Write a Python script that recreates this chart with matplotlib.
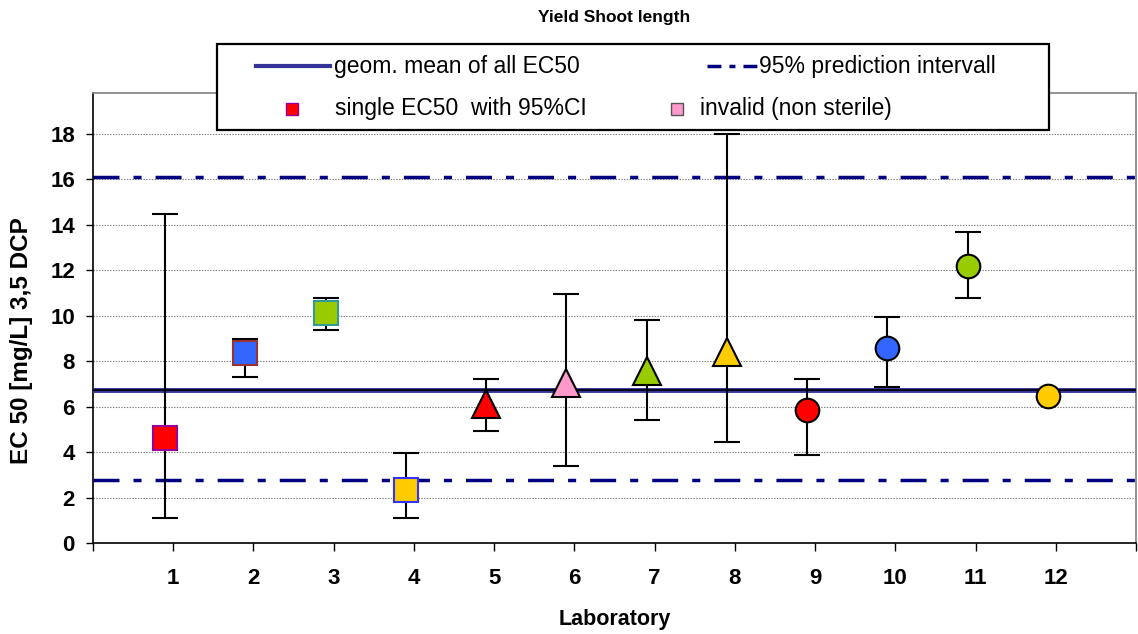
import matplotlib
matplotlib.use("Agg")
import matplotlib.pyplot as plt
from matplotlib.lines import Line2D
from matplotlib.patches import Rectangle

plt.rcParams["font.family"] = ["Liberation Sans", "DejaVu Sans"]
plt.rcParams["lines.scale_dashes"] = False

LABS = [1, 2, 3, 4, 5, 6, 7, 8, 9, 10, 11, 12]
EC50 = [4.60, 8.36, 10.12, 2.33, 6.12, 7.03, 7.59, 8.42, 5.84, 8.59, 12.18, 6.46]
CI_LOW = [1.11, 7.32, 9.37, 1.11, 4.93, 3.39, 5.41, 4.45, 3.87, 6.88, 10.78, None]
CI_HIGH = [14.48, 8.98, 10.78, 3.97, 7.22, 10.96, 9.81, 18.0, 7.22, 9.96, 13.70, None]

GEOM_MEAN = 6.75
PRED_LOW = 2.77
PRED_HIGH = 16.12

X_TICK_LABELS = [""] + [str(i) for i in LABS] + [""]

# marker look per laboratory
MARKERS = ["s"] * 4 + ["^"] * 4 + ["o"] * 4
FILLS = ["#FF0000", "#3366FF", "#99CC00", "#FFCC00",
         "#FF0000", "#FF99CC", "#99CC00", "#FFCC00",
         "#FF0000", "#3366FF", "#99CC00", "#FFCC00"]
EDGES = ["#990099", "#993333", "#339999", "#3333FF"] + ["black"] * 8
SIZES = {"s": 17, "^": 19.5, "o": 17}

W, H = 1138, 634
PI_DASH = (0, (18.7, 10.1, 5.8, 10.1))
PI_DASH_SMALL = (0, (10, 5.8, 4.3, 5.8))


def px(x, y):
    # pixel position (top-left origin) -> figure fraction
    return x / W, 1 - y / H


def draw_legend(fig):
    x0, y0 = px(217, 130)
    x1, y1 = px(1049, 44)
    fig.add_artist(Rectangle((x0, y0), x1 - x0, y1 - y0,
                             transform=fig.transFigure,
                             facecolor="white", edgecolor="black",
                             linewidth=1.6, zorder=10))

    ya = px(0, 66)[1]
    yb = px(0, 109)[1]

    fig.add_artist(Line2D([256 / W, 330 / W], [ya, ya],
                          transform=fig.transFigure, color="#333399",
                          linewidth=3, zorder=11))
    fig.text(334 / W, ya, "geom. mean of all EC50", fontsize=16.5,
             va="center", ha="left", zorder=11)

    fig.add_artist(Line2D([707 / W, 757 / W], [ya, ya],
                          transform=fig.transFigure, color="#000080",
                          linewidth=2.5, linestyle=PI_DASH_SMALL, zorder=11))
    fig.text(759 / W, ya, "95% prediction intervall", fontsize=16.5,
             va="center", ha="left", zorder=11)

    fig.add_artist(Line2D([292 / W], [yb], transform=fig.transFigure,
                          marker="s", markersize=8, markerfacecolor="#FF0000",
                          markeredgecolor="#990099", markeredgewidth=1,
                          linestyle="none", zorder=11))
    fig.text(335 / W, yb, "single EC50  with 95%CI", fontsize=16.5,
             va="center", ha="left", zorder=11)

    fig.add_artist(Line2D([677 / W], [yb], transform=fig.transFigure,
                          marker="s", markersize=8, markerfacecolor="#FF99CC",
                          markeredgecolor="#555555", markeredgewidth=1,
                          linestyle="none", zorder=11))
    fig.text(700 / W, yb, "invalid (non sterile)", fontsize=16.5,
             va="center", ha="left", zorder=11)


def main():
    fig = plt.figure(figsize=(W / 100, H / 100), dpi=100)
    ax = fig.add_axes([93 / W, 1 - 543 / H, 1043 / W, 450 / H])

    ax.set_xlim(0, 13)
    ax.set_ylim(0, 19.8)

    ax.yaxis.grid(True, color="#808080", linestyle=(0, (1, 1)),
                  linewidth=0.8)
    ax.set_axisbelow(True)

    # prediction interval and geometric mean
    for v in (PRED_LOW, PRED_HIGH):
        ax.axhline(v, color="#000080", linewidth=2.5, linestyle=PI_DASH,
                   zorder=2)
    ax.axhline(GEOM_MEAN, color="#333399", linewidth=3.5, zorder=3)
    ax.axhline(GEOM_MEAN, color="black", linewidth=1.2, zorder=3)

    for i, lab in enumerate(LABS):
        x = lab - 0.1
        y = EC50[i]
        if CI_LOW[i] is not None:
            ax.errorbar([x], [y],
                        yerr=[[y - CI_LOW[i]], [CI_HIGH[i] - y]],
                        fmt="none", ecolor="black", elinewidth=1.5,
                        capsize=9.5, capthick=1.5, zorder=4)
        m = MARKERS[i]
        ax.plot([x], [y], marker=m, markersize=SIZES[m],
                markerfacecolor=FILLS[i], markeredgecolor=EDGES[i],
                markeredgewidth=1.5, linestyle="none", zorder=5)

    ax.set_xticks(range(0, 14))
    ax.set_xticklabels(X_TICK_LABELS, fontweight="bold")
    ax.set_yticks(range(0, 20, 2))
    ax.set_yticklabels([str(v) for v in range(0, 20, 2)], fontweight="bold")
    ax.tick_params(axis="x", length=6, width=1, pad=12, labelsize=16)
    ax.tick_params(axis="y", length=5, width=1, pad=8, labelsize=16)

    for side in ("left", "bottom"):
        ax.spines[side].set_color("black")
        ax.spines[side].set_linewidth(1.2)
    for side in ("top", "right"):
        ax.spines[side].set_color("#808080")
        ax.spines[side].set_linewidth(1.2)

    ax.set_xlabel("Laboratory", fontsize=15.5, fontweight="bold", va="center")
    ax.xaxis.set_label_coords(0.5, -0.171)
    ax.set_ylabel("EC 50 [mg/L] 3,5 DCP", fontsize=17.5, fontweight="bold",
                  va="center")
    ax.yaxis.set_label_coords(-0.069, 0.45)

    ax.text(0.5, 1.167, "Yield Shoot length", transform=ax.transAxes,
            fontsize=12.5, fontweight="bold", ha="center", va="center")

    draw_legend(fig)

    fig.savefig("out.png", dpi=100)


if __name__ == "__main__":
    main()
